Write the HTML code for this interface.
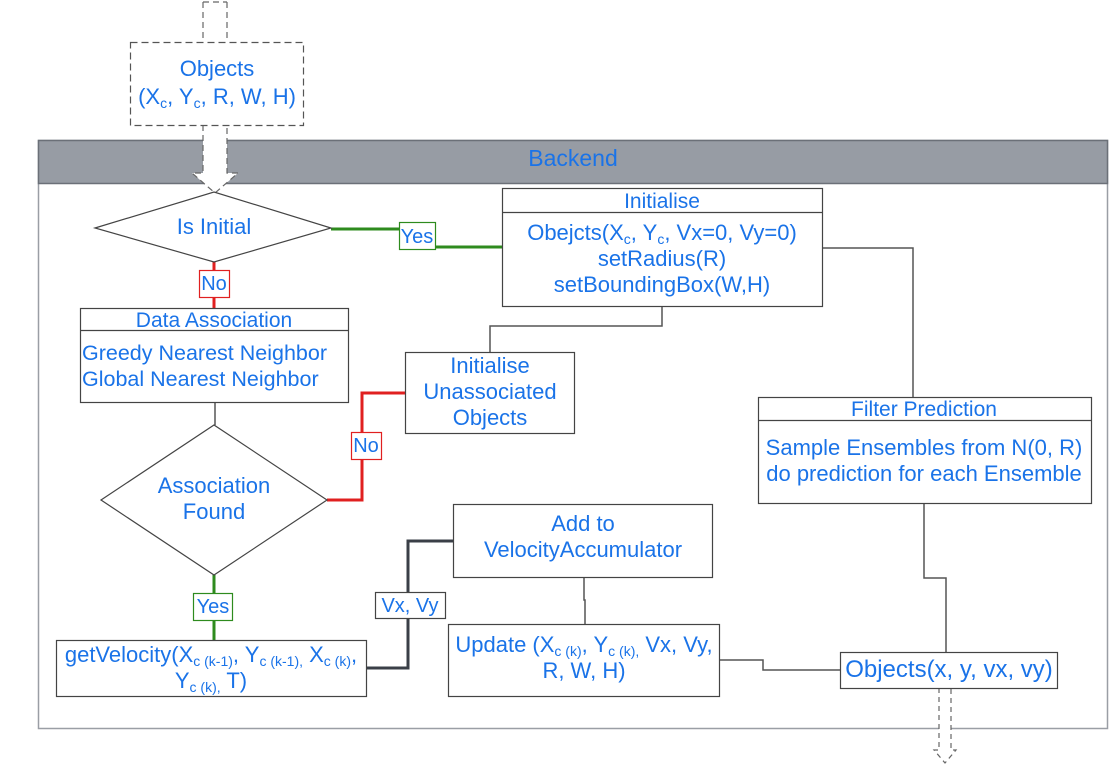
<!DOCTYPE html>
<html><head><meta charset="utf-8"><style>
html,body{margin:0;padding:0;background:#fff;}
svg text{font-family:"Liberation Sans",sans-serif;fill:#1a73e8;}
</style></head><body>
<svg width="1115" height="773" viewBox="0 0 1115 773" xmlns="http://www.w3.org/2000/svg">
<rect x="38.5" y="140.5" width="1069" height="588" fill="#fff" stroke="#9a9ea5" stroke-width="1.5"/>
<rect x="38.5" y="140.5" width="1069" height="43" fill="#979ca4" stroke="#6b7078" stroke-width="1.5"/>
<text x="573" y="166" font-size="23" text-anchor="middle">Backend</text>

<path d="M203,2 V42 M227,2 V42 M203,2 H227" fill="none" stroke="#666" stroke-dasharray="6,4" stroke-width="1.2"/>
<path d="M203,125 V173 H192 L215,193 L238,173 H227 V125" fill="#fff" stroke="#666" stroke-dasharray="6,4" stroke-width="1.2"/>
<rect x="130.5" y="42.5" width="173" height="83" fill="#fff" stroke="#555" stroke-dasharray="7,4" stroke-width="1.2"/>
<text x="217" y="76" font-size="22" text-anchor="middle">Objects</text>
<text x="217" y="104" font-size="22" text-anchor="middle">(X<tspan font-size="14" dy="4">c</tspan><tspan dy="-4">, Y</tspan><tspan font-size="14" dy="4">c</tspan><tspan dy="-4">, R, W, H)</tspan></text>

<g fill="none" stroke-width="3">
<path d="M331,229 H400 M435,247 H502" stroke="#2e8b1e"/>
<path d="M214,262 V308" stroke="#e02020"/>
<path d="M327,500 H362 V393 H405" stroke="#e02020"/>
<path d="M214,575 V640" stroke="#2e8b1e"/>
<path d="M366,668 H408 V541 H453" stroke="#3a3f47"/>
</g>
<g fill="none" stroke="#555" stroke-width="1.5">
<path d="M215,402 V425"/>
<path d="M662,306 V326 H490 V352"/>
<path d="M822,248 H913 V397"/>
<path d="M584,577 V600 H585 V624"/>
<path d="M719,660 H763 V670 H840"/>
<path d="M924,503 V578 H946 V652"/>
</g>

<path d="M939,688 V750 H934 L945,763 L956,750 H951 V688" fill="#fff" stroke="#666" stroke-dasharray="5,4" stroke-width="1.2"/>

<polygon points="95,228 214,192 331,228 214,262" fill="#fff" stroke="#444" stroke-width="1.2"/>
<text x="214" y="234" font-size="22" text-anchor="middle">Is Initial</text>

<rect x="399.5" y="222.5" width="36" height="27" fill="#fff" stroke="#2e8b1e" stroke-width="1.2"/>
<text x="417" y="243" font-size="20" text-anchor="middle">Yes</text>

<rect x="502.5" y="188.5" width="320" height="118" fill="#fff" stroke="#444" stroke-width="1.2"/>
<line x1="502" y1="212.5" x2="822" y2="212.5" stroke="#444" stroke-width="1.2"/>
<text x="662" y="208" font-size="21" text-anchor="middle">Initialise</text>
<text x="662" y="240" font-size="22" text-anchor="middle">Obejcts(X<tspan font-size="14" dy="4">c</tspan><tspan dy="-4">, Y</tspan><tspan font-size="14" dy="4">c</tspan><tspan dy="-4">, Vx=0, Vy=0)</tspan></text>
<text x="662" y="266" font-size="22" text-anchor="middle">setRadius(R)</text>
<text x="662" y="292" font-size="22" text-anchor="middle">setBoundingBox(W,H)</text>

<rect x="199.5" y="270.5" width="30" height="27" fill="#fff" stroke="#e02020" stroke-width="1.2"/>
<text x="214" y="290" font-size="20" text-anchor="middle">No</text>

<rect x="80.5" y="308.5" width="268" height="94" fill="#fff" stroke="#444" stroke-width="1.2"/>
<line x1="80" y1="330.5" x2="348" y2="330.5" stroke="#444" stroke-width="1.2"/>
<text x="214" y="327" font-size="21" text-anchor="middle">Data Association</text>
<text x="82" y="360" font-size="21.5">Greedy Nearest Neighbor</text>
<text x="82" y="386" font-size="21.5">Global Nearest Neighbor</text>

<polygon points="101,500 214,425 327,500 214,575" fill="#fff" stroke="#444" stroke-width="1.2"/>
<text x="214" y="493" font-size="22" text-anchor="middle">Association</text>
<text x="214" y="519" font-size="22" text-anchor="middle">Found</text>

<rect x="351.5" y="432.5" width="30" height="27" fill="#fff" stroke="#e02020" stroke-width="1.2"/>
<text x="366" y="452" font-size="20" text-anchor="middle">No</text>

<rect x="405.5" y="352.5" width="169" height="81" fill="#fff" stroke="#444" stroke-width="1.2"/>
<text x="490" y="373" font-size="22" text-anchor="middle">Initialise</text>
<text x="490" y="399" font-size="22" text-anchor="middle">Unassociated</text>
<text x="490" y="425" font-size="22" text-anchor="middle">Objects</text>

<rect x="193.5" y="593.5" width="39" height="27" fill="#fff" stroke="#2e8b1e" stroke-width="1.2"/>
<text x="213" y="613" font-size="20" text-anchor="middle">Yes</text>

<rect x="56.5" y="640.5" width="310" height="56" fill="#fff" stroke="#444" stroke-width="1.2"/>
<text x="211" y="662" font-size="22" text-anchor="middle">getVelocity(X<tspan font-size="14" dy="4">c (k-1)</tspan><tspan dy="-4">, Y</tspan><tspan font-size="14" dy="4">c (k-1),</tspan><tspan dy="-4"> X</tspan><tspan font-size="14" dy="4">c (k)</tspan><tspan dy="-4">,</tspan></text>
<text x="211" y="688" font-size="22" text-anchor="middle">Y<tspan font-size="14" dy="4">c (k),</tspan><tspan dy="-4"> T)</tspan></text>

<rect x="375.5" y="592.5" width="70" height="26" fill="#fff" stroke="#444" stroke-width="1.2"/>
<text x="410" y="612" font-size="20" text-anchor="middle">Vx, Vy</text>

<rect x="453.5" y="504.5" width="259" height="73" fill="#fff" stroke="#444" stroke-width="1.2"/>
<text x="583" y="531" font-size="22" text-anchor="middle">Add to</text>
<text x="583" y="557" font-size="22" text-anchor="middle">VelocityAccumulator</text>

<rect x="448.5" y="624.5" width="271" height="72" fill="#fff" stroke="#444" stroke-width="1.2"/>
<text x="584" y="652" font-size="22" text-anchor="middle">Update (X<tspan font-size="14" dy="4">c (k)</tspan><tspan dy="-4">, Y</tspan><tspan font-size="14" dy="4">c (k),</tspan><tspan dy="-4"> Vx, Vy,</tspan></text>
<text x="584" y="678" font-size="22" text-anchor="middle">R, W, H)</text>

<rect x="758.5" y="397.5" width="333" height="106" fill="#fff" stroke="#444" stroke-width="1.2"/>
<line x1="758" y1="420.5" x2="1091" y2="420.5" stroke="#444" stroke-width="1.2"/>
<text x="924" y="416" font-size="21" text-anchor="middle">Filter Prediction</text>
<text x="924" y="455" font-size="22" text-anchor="middle">Sample Ensembles from N(0, R)</text>
<text x="924" y="481" font-size="22" text-anchor="middle">do prediction for each Ensemble</text>

<rect x="840.5" y="652.5" width="217" height="36" fill="#fff" stroke="#444" stroke-width="1.2"/>
<text x="949" y="677" font-size="24" text-anchor="middle">Objects(x, y, vx, vy)</text>
</svg>
</body></html>
